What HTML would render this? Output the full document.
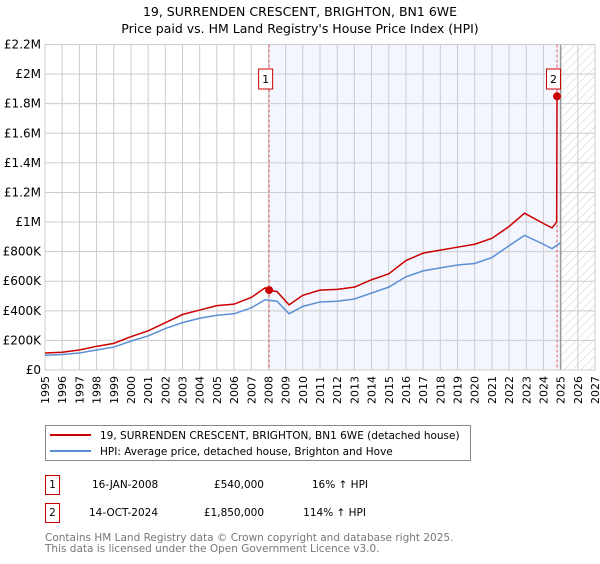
<!DOCTYPE html>
<html><head><meta charset="utf-8"><style>
body{margin:0;background:#fff;font-family:"DejaVu Sans","Liberation Sans",sans-serif;}
svg text{font-family:"DejaVu Sans","Liberation Sans",sans-serif;}
</style></head><body>
<svg id="chart" width="600" height="560" xmlns="http://www.w3.org/2000/svg">
<defs><pattern id="hatch" width="6" height="6" patternUnits="userSpaceOnUse" patternTransform="rotate(45)"><line x1="0" y1="0" x2="0" y2="6" stroke="#ccc" stroke-width="1"/></pattern></defs>
<text x="300" y="16" text-anchor="middle" font-size="12.5">19, SURRENDEN CRESCENT, BRIGHTON, BN1 6WE</text>
<text x="300" y="33" text-anchor="middle" font-size="12.5">Price paid vs. HM Land Registry's House Price Index (HPI)</text>
<g id="plot"></g>
<g>
<rect x="45.5" y="425.5" width="425" height="35" fill="#fff" stroke="#888"/>
<line x1="50" y1="435" x2="91" y2="435" stroke="#cc0000" stroke-width="2"/>
<text x="100" y="439" font-size="10.5">19, SURRENDEN CRESCENT, BRIGHTON, BN1 6WE (detached house)</text>
<line x1="50" y1="451" x2="91" y2="451" stroke="#5b8fd4" stroke-width="2"/>
<text x="100" y="455" font-size="10.5">HPI: Average price, detached house, Brighton and Hove</text>
</g>
<g font-size="10.5">
<rect x="45.5" y="475.5" width="14" height="19" fill="#fff" stroke="#cc0000"/><text x="52.5" y="488" text-anchor="middle">1</text>
<text x="92" y="488">16-JAN-2008</text><text x="264" y="488" text-anchor="end">£540,000</text><text x="368" y="488" text-anchor="end">16% ↑ HPI</text>
<rect x="45.5" y="503.5" width="14" height="19" fill="#fff" stroke="#cc0000"/><text x="52.5" y="516" text-anchor="middle">2</text>
<text x="89" y="516">14-OCT-2024</text><text x="264" y="516" text-anchor="end">£1,850,000</text><text x="366" y="516" text-anchor="end">114% ↑ HPI</text>
</g>
<text x="45" y="541" font-size="10.5" fill="#777">Contains HM Land Registry data © Crown copyright and database right 2025.</text>
<text x="45" y="552" font-size="10.5" fill="#777">This data is licensed under the Open Government Licence v3.0.</text>
</svg>
<script>
const yearTicks=[1995,1996,1997,1998,1999,2000,2001,2002,2003,2004,2005,2006,2007,2008,2009,2010,2011,2012,2013,2014,2015,2016,2017,2018,2019,2020,2021,2022,2023,2024,2025,2026,2027];
const valueTicks=[0,200000,400000,600000,800000,1000000,1200000,1400000,1600000,1800000,2000000,2200000];
const valueTickLabels=["£0","£200K","£400K","£600K","£800K","£1M","£1.2M","£1.4M","£1.6M","£1.8M","£2M","£2.2M"];
const hpiYears=[1995,1996,1997,1998,1999,2000,2001,2002,2003,2004,2005,2006,2007,2007.8,2008.5,2009.2,2010,2011,2012,2013,2014,2015,2016,2017,2018,2019,2020,2021,2022,2022.9,2024,2024.5,2025];
const hpiValues=[100000,105000,115000,135000,155000,195000,230000,280000,320000,350000,370000,380000,420000,475000,465000,380000,430000,460000,465000,480000,520000,560000,630000,670000,690000,710000,720000,760000,840000,910000,850000,820000,860000];
const priceYears=[1995,1996,1997,1998,1999,2000,2001,2002,2003,2004,2005,2006,2007,2007.8,2008.04,2008.5,2009.2,2010,2011,2012,2013,2014,2015,2016,2017,2018,2019,2020,2021,2022,2022.9,2024,2024.5,2024.77,2024.79];
const priceValues=[115000,120000,135000,160000,180000,225000,265000,320000,375000,405000,435000,445000,490000,555000,540000,530000,440000,505000,540000,545000,560000,610000,650000,740000,790000,810000,830000,850000,890000,970000,1060000,990000,960000,1000000,1850000];
const saleYears=[2008.04,2024.79];
const saleValues=[540000,1850000];
const saleLabels=["1","2"];

const X0=45,X1=595,Y0=370,Y1=44.5;
const xs=y=>X0+(y-1995)/(2027-1995)*(X1-X0);
const ys=v=>Y0-v/2200000*(Y0-Y1);
const NS="http://www.w3.org/2000/svg";
const g=document.getElementById('plot');
function mk(t,a){const e=document.createElementNS(NS,t);for(const k in a)e.setAttribute(k,a[k]);g.appendChild(e);return e;}
let e;
e=mk('rect',{x:xs(2008.04),y:Y1,width:xs(2025)-xs(2008.04),height:Y0-Y1,fill:'#f3f6fe'});


e=mk('rect',{x:xs(2025),y:Y1,width:X1-xs(2025),height:Y0-Y1,fill:'url(#hatch)'});


yearTicks.forEach(yr=>{
 e=mk('line',{x1:xs(yr),x2:xs(yr),y1:Y1,y2:Y0,stroke:'#ccc','stroke-width':1});
 
 
 e=mk('text',{x:0,y:0,'font-size':11,'text-anchor':'end',transform:`translate(${xs(yr)+4},${Y0+6}) rotate(-90)`});
 e.textContent=yr;
 
 
});
valueTicks.forEach((v,i)=>{
 e=mk('line',{x1:X0,x2:X1,y1:ys(v),y2:ys(v),stroke:'#ccc','stroke-width':1});
 
 
 e=mk('text',{x:X0-4,y:ys(v)+4,'font-size':12,'text-anchor':'end'});
 e.textContent=valueTickLabels[i];
 
 
});
e=mk('line',{x1:xs(2025),x2:xs(2025),y1:Y1,y2:Y0,stroke:'#999','stroke-width':1.5});


e=mk('rect',{x:X0,y:Y1,width:X1-X0,height:Y0-Y1,fill:'none',stroke:'#ccc'});


saleYears.forEach((yr,i)=>{
 e=mk('line',{x1:xs(yr),x2:xs(yr),y1:Y1,y2:Y0,stroke:'#e06060','stroke-dasharray':'3,2','stroke-width':1});
 
 
});
e=mk('polyline',{points:hpiYears.map((y,i)=>xs(y)+','+ys(hpiValues[i])).join(' '),fill:'none',stroke:'#5b8fd4','stroke-width':1.5});


e=mk('polyline',{points:priceYears.map((y,i)=>xs(y)+','+ys(priceValues[i])).join(' '),fill:'none',stroke:'#cc0000','stroke-width':1.5});


saleYears.forEach((yr,i)=>{
 e=mk('circle',{cx:xs(yr),cy:ys(saleValues[i]),r:4,fill:'#cc0000'});
 
 
 const bx=xs(yr)-3.5;
 e=mk('rect',{x:bx-7,y:69,width:14,height:20,fill:'#fff',stroke:'#cc0000'});
 
 
 e=mk('text',{x:bx,y:83,'font-size':11,'text-anchor':'middle'});
 e.textContent=saleLabels[i];
 
 
});
</script>
</body></html>
